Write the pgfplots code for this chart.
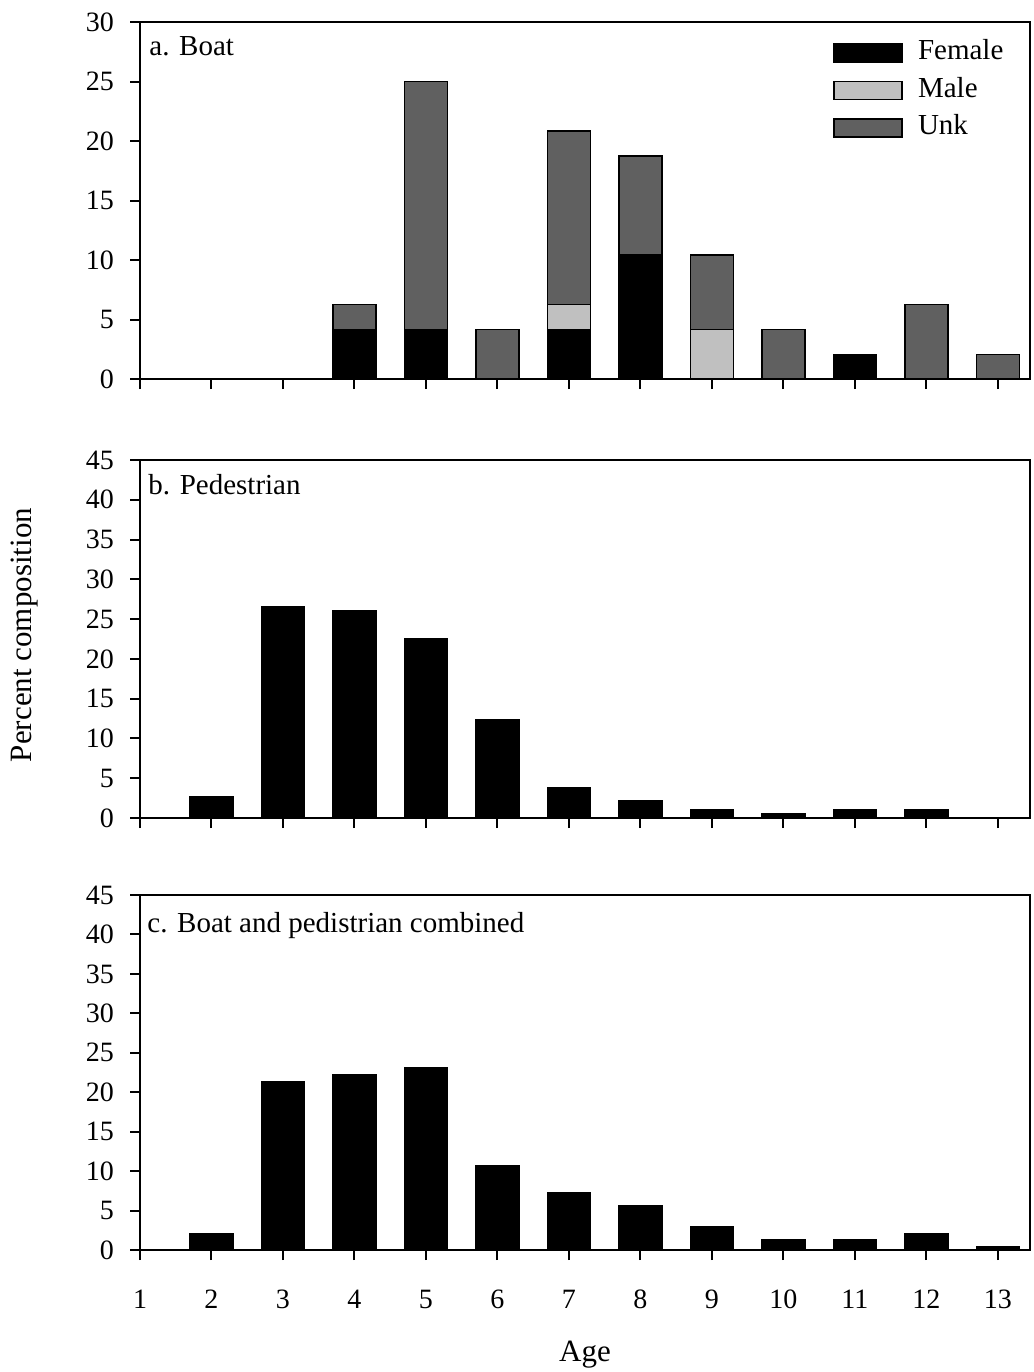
\documentclass[border=0pt]{standalone}
\usepackage{fontspec}
\setmainfont{Liberation Serif}
\usepackage{pgfplots}
\pgfplotsset{compat=1.18}
\definecolor{unkgray}{HTML}{606060}
\definecolor{malegray}{HTML}{C0C0C0}
\begin{document}
\fontsize{14.5}{17}\selectfont
\begin{tikzpicture}
\pgfplotsset{
 panel/.style={
  scale only axis, width=445pt, xmin=1, xmax=13.45, ymin=0,
  xtick={1,...,13}, tick align=outside, tick pos=left, major tick length=5pt,
  axis line style={line width=1pt}, every tick/.style={black, line width=1pt},
  /pgf/number format/assume math mode=true,
  ticklabel style={font=\fontsize{14}{16}\selectfont},
  yticklabel style={xshift=-3pt},
  xticklabel style={yshift=-10pt},
  bar width=21.5pt,
 }}
\path[use as bounding box] (0,0) rectangle (517pt,-686pt);
% panel a
\begin{axis}[panel, at={(70pt,-11pt)}, anchor=north west, height=178.5pt,
  ymax=30, ytick={0,5,...,30}, xticklabels={}, ybar stacked,
  legend style={draw=none, fill=none, at={(axis description cs:0.7787,0.962)}, anchor=north west,
    inner sep=0pt, row sep=2pt, font=\fontsize{14.5}{17}\selectfont,
    nodes={inner sep=2pt, text height=9.8pt, text depth=3pt},
    /tikz/every odd column/.style={column sep=5.5pt}},
  legend cell align=left,
  legend image code/.code={\draw[#1, line width=0.8pt] (0pt,-4.5pt) rectangle (34pt,4.5pt);}]
\addplot[fill=black, draw=black, line width=0.7pt] coordinates {(4,4.17) (5,4.17) (6,0) (7,4.17) (8,10.42) (9,0) (10,0) (11,2.08) (12,0) (13,0)};
\addplot[fill=malegray, draw=black, line width=0.7pt] coordinates {(4,0) (5,0) (6,0) (7,2.08) (8,0) (9,4.17) (10,0) (11,0) (12,0) (13,0)};
\addplot[fill=unkgray, draw=black, line width=0.7pt] coordinates {(4,2.08) (5,20.83) (6,4.17) (7,14.58) (8,8.33) (9,6.25) (10,4.17) (11,0) (12,6.25) (13,2.08)};
\legend{Female, Male, Unk}
\node[anchor=base west, inner sep=0pt] at (rel axis cs:0,1) [xshift=4.5pt, yshift=-16.5pt] {a. Boat};
\end{axis}
% panel b
\begin{axis}[panel, at={(70pt,-230pt)}, anchor=north west, height=179pt,
  ymax=45, ytick={0,5,...,45}, xticklabels={}, ybar]
\addplot[fill=black, draw=black, line width=0.7pt] coordinates {(2,2.7) (3,26.6) (4,26.1) (5,22.5) (6,12.3) (7,3.75) (8,2.2) (9,1.1) (10,0.6) (11,1.1) (12,1.1)};
\node[anchor=base west, inner sep=0pt] at (rel axis cs:0,1) [xshift=4pt, yshift=-17pt] {b. Pedestrian};
\end{axis}
% panel c
\begin{axis}[panel, at={(70pt,-447.5pt)}, anchor=north west, height=177.5pt,
  ymax=45, ytick={0,5,...,45}, ybar]
\addplot[fill=black, draw=black, line width=0.7pt] coordinates {(2,2.1) (3,21.3) (4,22.2) (5,23.1) (6,10.7) (7,7.3) (8,5.6) (9,3.0) (10,1.3) (11,1.3) (12,2.1) (13,0.4)};
\node[anchor=base west, inner sep=0pt] at (rel axis cs:0,1) [xshift=3.5pt, yshift=-18.5pt] {c. Boat and pedistrian combined};
\end{axis}
\node[rotate=90, font=\fontsize{15.5}{18}\selectfont] at (12.5pt,-317.5pt) {Percent composition};
\node[font=\fontsize{15.5}{18}\selectfont] at (292.5pt,-677.5pt) {Age};
\end{tikzpicture}
\end{document}
